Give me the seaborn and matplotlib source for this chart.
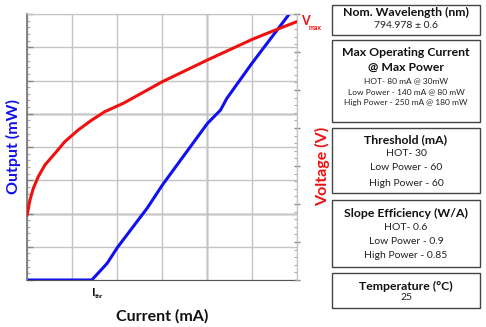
import matplotlib
matplotlib.use("Agg")
import matplotlib.pyplot as plt
import seaborn as sns
import pandas as pd
from matplotlib.patches import Rectangle
from matplotlib.ticker import MultipleLocator, NullFormatter

sns.set_style("white")
plt.rcParams['font.family'] = ['Lato', 'DejaVu Sans']

# Data (arbitrary grid units)
current_out = [0.0, 1.44, 1.78, 2.01, 2.67, 3.01, 4.01, 4.30, 4.44, 5.00, 5.84]
output_mw = [0.0, 0.0, 0.5, 0.98, 2.16, 2.86, 4.71, 5.11, 5.46, 6.52, 8.02]

current_v = [0.0, 0.016, 0.067, 0.14, 0.25, 0.40, 0.62, 0.84, 1.14, 1.44, 1.73,
             2.14, 3.01, 4.01, 5.00, 5.48, 6.0]
voltage_v = [1.70, 1.80, 2.11, 2.41, 2.72, 3.03, 3.33, 3.64, 3.95, 4.21, 4.43,
             4.65, 5.22, 5.79, 6.33, 6.56, 6.80]

box_titles = ["Nom. Wavelength (nm)", "Max Operating Current\n@ Max Power",
              "Threshold (mA)", "Slope Efficiency (W/A)", "Temperature (°C)"]
box_lines = [
    ["794.978 ± 0.6"],
    ["HOT- 80 mA @ 30mW", "Low Power - 140 mA @ 80 mW", "High Power - 250 mA @ 180 mW"],
    ["HOT- 30", "Low Power - 60", "High Power - 60"],
    ["HOT- 0.6", "Low Power - 0.9", "High Power - 0.85"],
    ["25"],
]

W, H = 486, 327
fig = plt.figure(figsize=(W / 100, H / 100), dpi=100)
ax = fig.add_axes([27 / W, 1 - 280 / H, 270 / W, 266 / H])

df_out = pd.DataFrame({"c": current_out, "p": output_mw})
df_v = pd.DataFrame({"c": current_v, "v": voltage_v})

ax.set_xlim(0, 6)
ax.set_ylim(0, 8)
ax.xaxis.set_major_locator(MultipleLocator(1))
ax.yaxis.set_major_locator(MultipleLocator(1))
ax.yaxis.set_minor_locator(MultipleLocator(0.2))
ax.set_xticklabels([])
ax.set_yticklabels([])
ax.yaxis.set_minor_formatter(NullFormatter())
ax.grid(True, which="major", color="#c4c4c4", lw=1.0)
for y in [2, 5]:
    ax.axhline(y, color="#7a7a7a", lw=1.0, zorder=0.5)
ax.axvline(4, color="#7a7a7a", lw=1.0, zorder=0.5)
ax.tick_params(axis="y", which="major", left=True, length=4, width=1, color="#888888", direction="in")
ax.tick_params(axis="y", which="minor", left=True, length=2.5, width=0.8, color="#aaaaaa", direction="in")
ax.tick_params(axis="x", bottom=False)
for s in ax.spines.values():
    s.set_color("#c4c4c4")
ax.spines["left"].set_color("#7a7a7a")
ax.spines["left"].set_linewidth(1.3)
ax.spines["bottom"].set_color("#555555")

sns.lineplot(data=df_out, x="c", y="p", ax=ax, color="#1010f0", lw=2.2,
             sort=False, estimator=None)
ax.set_xlabel("")
ax.set_ylabel("")

ax2 = ax.twinx()
ax2.set_ylim(0, 7)
ax2.yaxis.set_major_locator(MultipleLocator(1))
ax2.yaxis.set_minor_locator(MultipleLocator(0.2))
ax2.set_yticklabels([])
ax2.yaxis.set_minor_formatter(NullFormatter())
ax2.tick_params(axis="y", which="major", right=True, length=4, width=1, color="#888888", direction="inout")
ax2.tick_params(axis="y", which="minor", right=True, length=2.5, width=0.8, color="#aaaaaa", direction="in")
for s in ax2.spines.values():
    s.set_visible(False)
ax2.spines["right"].set_visible(True)
ax2.spines["right"].set_color("#c4c4c4")
sns.lineplot(data=df_v, x="c", y="v", ax=ax2, color="#f01010", lw=2.2,
             sort=False, estimator=None)
ax2.set_xlabel("")
ax2.set_ylabel("")
ax2.set_xlim(0, 6)

# labels
fig.text(13 / W, 1 - 147 / H, "Output (mW)", color="#1010f0", fontsize=11.5,
         fontweight="bold", rotation=90, ha="center", va="center")
fig.text(323 / W, 1 - 166 / H, "Voltage (V)", color="#f01010", fontsize=11.5,
         fontweight="bold", rotation=90, ha="center", va="center")
fig.text(162 / W, 1 - 316 / H, "Current (mA)", color="#111111", fontsize=11.5,
         fontweight="bold", ha="center", va="center")
fig.text(94 / W, 1 - 293 / H, "I", color="#111111", fontsize=8.5,
         fontweight="bold", ha="center", va="center")
fig.text(99 / W, 1 - 297 / H, "thr", color="#111111", fontsize=4.5,
         fontweight="bold", ha="center", va="center")
fig.text(301 / W, 1 - 21 / H, "V", color="#f01010", fontsize=9,
         fontweight="bold", ha="left", va="center")
fig.text(309 / W, 1 - 28 / H, "max", color="#f01010", fontsize=5,
         fontweight="bold", ha="left", va="center")

# boxes
box_y = [(5, 35), (40, 122), (128, 193), (200, 267), (273, 308)]
title_y = [[12.7], [53, 67], [140], [213], [286]]
line_y = [[25], [81, 92, 103], [154, 168, 183], [228, 242, 256], [298]]
line_fs = [7.5, 6.0, 7.5, 7.5, 7.5]
bx0, bx1 = 332, 480
xc = (bx0 + bx1) / 2
for i in range(5):
    y0, y1 = box_y[i]
    fig.add_artist(Rectangle((bx0 / W, 1 - y1 / H), (bx1 - bx0) / W, (y1 - y0) / H,
                             transform=fig.transFigure, fill=False,
                             edgecolor="#444444", lw=1.0))
    for t, ty in zip(box_titles[i].split("\n"), title_y[i]):
        fig.text(xc / W, 1 - ty / H, t, fontsize=8.8, fontweight="bold",
                 color="#111111", ha="center", va="center")
    for t, ty in zip(box_lines[i], line_y[i]):
        fig.text(xc / W, 1 - ty / H, t, fontsize=line_fs[i], color="#222222",
                 ha="center", va="center")

fig.savefig("out.png", dpi=100)
